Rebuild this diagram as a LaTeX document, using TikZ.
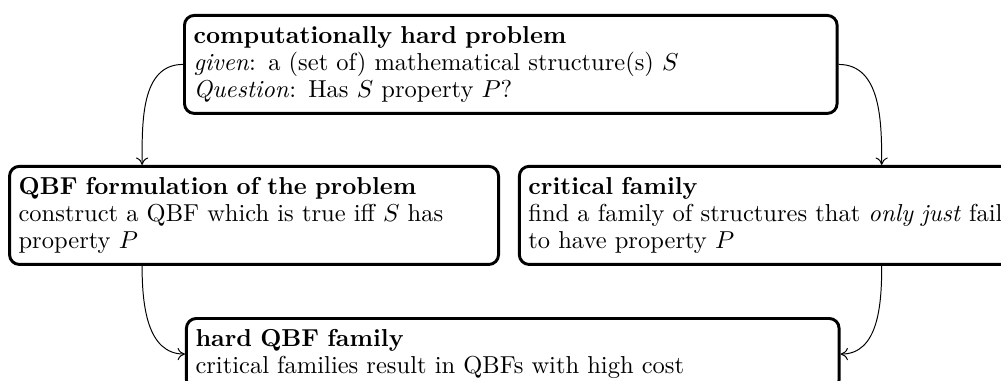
\documentclass[tikz,border=0pt]{standalone}
\usepackage{tikz}
\usetikzlibrary{arrows.meta}

\begin{document}
\begin{tikzpicture}[x=1pt,y=1pt,
  probbox/.style={draw, line width=1.2pt, rounded corners=4pt, anchor=north west,
    align=left, inner xsep=3.7pt, inner ysep=4.5pt,
    font=\fontsize{10}{11}\selectfont},
  flow/.style={thin, -{To[length=3pt, width=5pt]}}]
\useasboundingbox (0,0) rectangle (408.6,-155.5);
\node[probbox, text width=259pt] (prob) at (74.7,-5.7)
  {\textbf{computationally hard problem}\\
   \emph{given}: a (set of) mathematical structure(s) $S$\\
   \emph{Question}: Has $S$ property $P$?};
\node[probbox, text width=192.2pt] (qbf) at (3.3,-67.3)
  {\textbf{QBF formulation of the problem}\\
   construct a QBF which is true iff $S$ has property $P$};
\node[probbox, text width=200pt] (crit) at (211.4,-67.3)
  {\textbf{critical family}\\
   find a family of structures that \emph{only just} fail to have property $P$};
\node[probbox, text width=259pt] (hard) at (75.5,-129.4)
  {\textbf{hard QBF family}\\
   critical families result in QBFs with high cost};
\coordinate (qbfin) at ([xshift=-16.7pt]prob.west |- qbf.north);
\coordinate (qbfout) at (qbfin |- qbf.south);
\coordinate (critin) at ([xshift=17.6pt]prob.east |- crit.north);
\coordinate (critout) at (critin |- crit.south);
\draw[flow] (prob.west) to[out=180, in=90] (qbfin);
\draw[flow] (prob.east) to[out=0, in=90] (critin);
\draw[flow] (qbfout) to[out=-90, in=180] (hard.west);
\draw[flow] (critout) to[out=-90, in=0] (hard.east);
\end{tikzpicture}
\end{document}
